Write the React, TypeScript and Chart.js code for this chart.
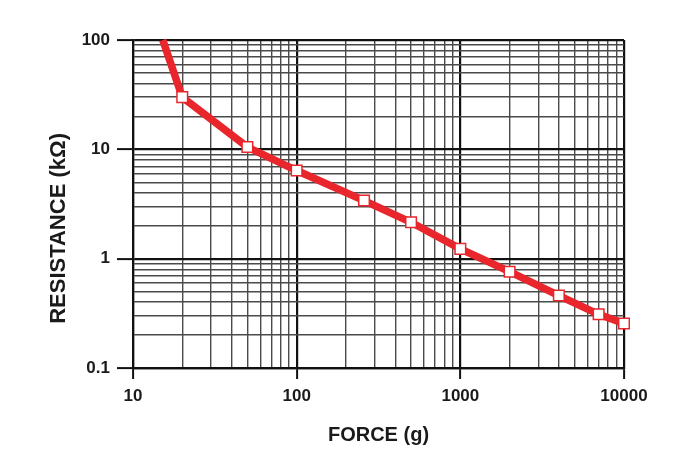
import React, { useEffect, useRef } from "react";
import { Chart, registerables } from "chart.js";

Chart.register(...registerables);

// Data (force in grams, resistance in kΩ)
const forceValues = [15.2, 20, 50, 100, 258, 500, 1000, 2000, 4000, 7000, 10000];
const resistanceValues = [100, 30, 10.5, 6.4, 3.4, 2.15, 1.23, 0.76, 0.46, 0.31, 0.255];

const xDecades = [10, 100, 1000, 10000];
const yDecades = [0.1, 1, 10, 100];
const xTickLabels = ["10", "100", "1000", "10000"];
const yTickLabels = ["0.1", "1", "10", "100"];
const minorSteps = [1, 2, 3, 4, 5, 6, 7, 8, 9];

const xTitle = "FORCE (g)";
// trailing spaces shift the rotated title down to where it sits in the reference
const yTitle = "RESISTANCE (kΩ)        ";

const FONT = "'Liberation Sans', Arial, Helvetica, sans-serif";
const RED = "#e8262b";

function buildTicks(decades: number[]) {
  const out: { value: number }[] = [];
  decades.forEach((d, i) => {
    if (i === decades.length - 1) {
      out.push({ value: d });
    } else {
      minorSteps.forEach((s) => out.push({ value: +(d * s).toPrecision(6) }));
    }
  });
  return out;
}

function isMajor(v: number, decades: number[]) {
  return decades.some((d) => Math.abs(v - d) / d < 1e-6);
}

export default function App() {
  const ref = useRef<HTMLCanvasElement | null>(null);

  useEffect(() => {
    if (!ref.current) return;
    const chart = new Chart(ref.current, {
      type: "line",
      data: {
        datasets: [
          {
            data: forceValues.map((x, i) => ({ x, y: resistanceValues[i] })),
            borderColor: RED,
            borderWidth: 7.5,
            backgroundColor: "#ffffff",
            pointStyle: "rect",
            pointRadius: (ctx: any) => (ctx.dataIndex === 0 ? 0 : 7.5),
            pointBorderColor: RED,
            pointBackgroundColor: "#ffffff",
            pointBorderWidth: 1.5,
            tension: 0,
            clip: 6,
          },
        ],
      },
      options: {
        animation: false,
        responsive: true,
        maintainAspectRatio: false,
        layout: { padding: { top: 40, right: 54, left: 0, bottom: 0 } },
        plugins: {
          legend: { display: false },
          tooltip: { enabled: false },
        },
        scales: {
          x: {
            type: "logarithmic",
            min: 10,
            max: 10000,
            afterBuildTicks: (scale: any) => {
              scale.ticks = buildTicks(xDecades);
            },
            afterFit: (scale: any) => {
              scale.height = 85;
            },
            ticks: {
              autoSkip: false,
              maxRotation: 0,
              padding: 7,
              color: "#1a1a1a",
              font: { family: FONT, size: 17, weight: "bold" },
              callback: (v: any) => {
                const i = xDecades.findIndex((d) => Math.abs(v - d) / d < 1e-6);
                return i >= 0 ? xTickLabels[i] : "";
              },
            },
            grid: {
              drawTicks: true,
              tickLength: 11,
              color: (ctx: any) => (isMajor(ctx.tick?.value, xDecades) ? "#111111" : "#4a4a4a"),
              lineWidth: (ctx: any) => (isMajor(ctx.tick?.value, xDecades) ? 2.2 : 1.4),
              tickColor: (ctx: any) => (isMajor(ctx.tick?.value, xDecades) ? "#111111" : "rgba(0,0,0,0)"),
              tickWidth: 2,
            },
            border: { display: true, color: "#111111", width: 2.2 },
            title: {
              display: true,
              text: xTitle,
              color: "#1a1a1a",
              font: { family: FONT, size: 20, weight: "bold" },
              padding: { top: 0, bottom: 6 },
            },
          },
          y: {
            type: "logarithmic",
            min: 0.1,
            max: 100,
            afterBuildTicks: (scale: any) => {
              scale.ticks = buildTicks(yDecades);
            },
            afterFit: (scale: any) => {
              scale.width = 133;
            },
            ticks: {
              autoSkip: false,
              padding: 7,
              color: "#1a1a1a",
              font: { family: FONT, size: 17, weight: "bold" },
              callback: (v: any) => {
                const i = yDecades.findIndex((d) => Math.abs(v - d) / d < 1e-6);
                return i >= 0 ? yTickLabels[i] : "";
              },
            },
            grid: {
              drawTicks: true,
              tickLength: 16,
              color: (ctx: any) => (isMajor(ctx.tick?.value, yDecades) ? "#111111" : "#4a4a4a"),
              lineWidth: (ctx: any) => (isMajor(ctx.tick?.value, yDecades) ? 2.2 : 1.4),
              tickColor: (ctx: any) => (isMajor(ctx.tick?.value, yDecades) ? "#111111" : "rgba(0,0,0,0)"),
              tickWidth: 2,
            },
            border: { display: true, color: "#111111", width: 2.2 },
            title: {
              display: true,
              text: yTitle,
              color: "#1a1a1a",
              font: { family: FONT, size: 22, weight: "bold" },
              padding: { top: 46, bottom: 0 },
            },
          },
        },
      },
    });
    return () => chart.destroy();
  }, []);

  return (
    <div style={{ position: "absolute", left: 0, top: 0, width: 678, height: 453, background: "#ffffff" }}>
      <canvas ref={ref} />
    </div>
  );
}
